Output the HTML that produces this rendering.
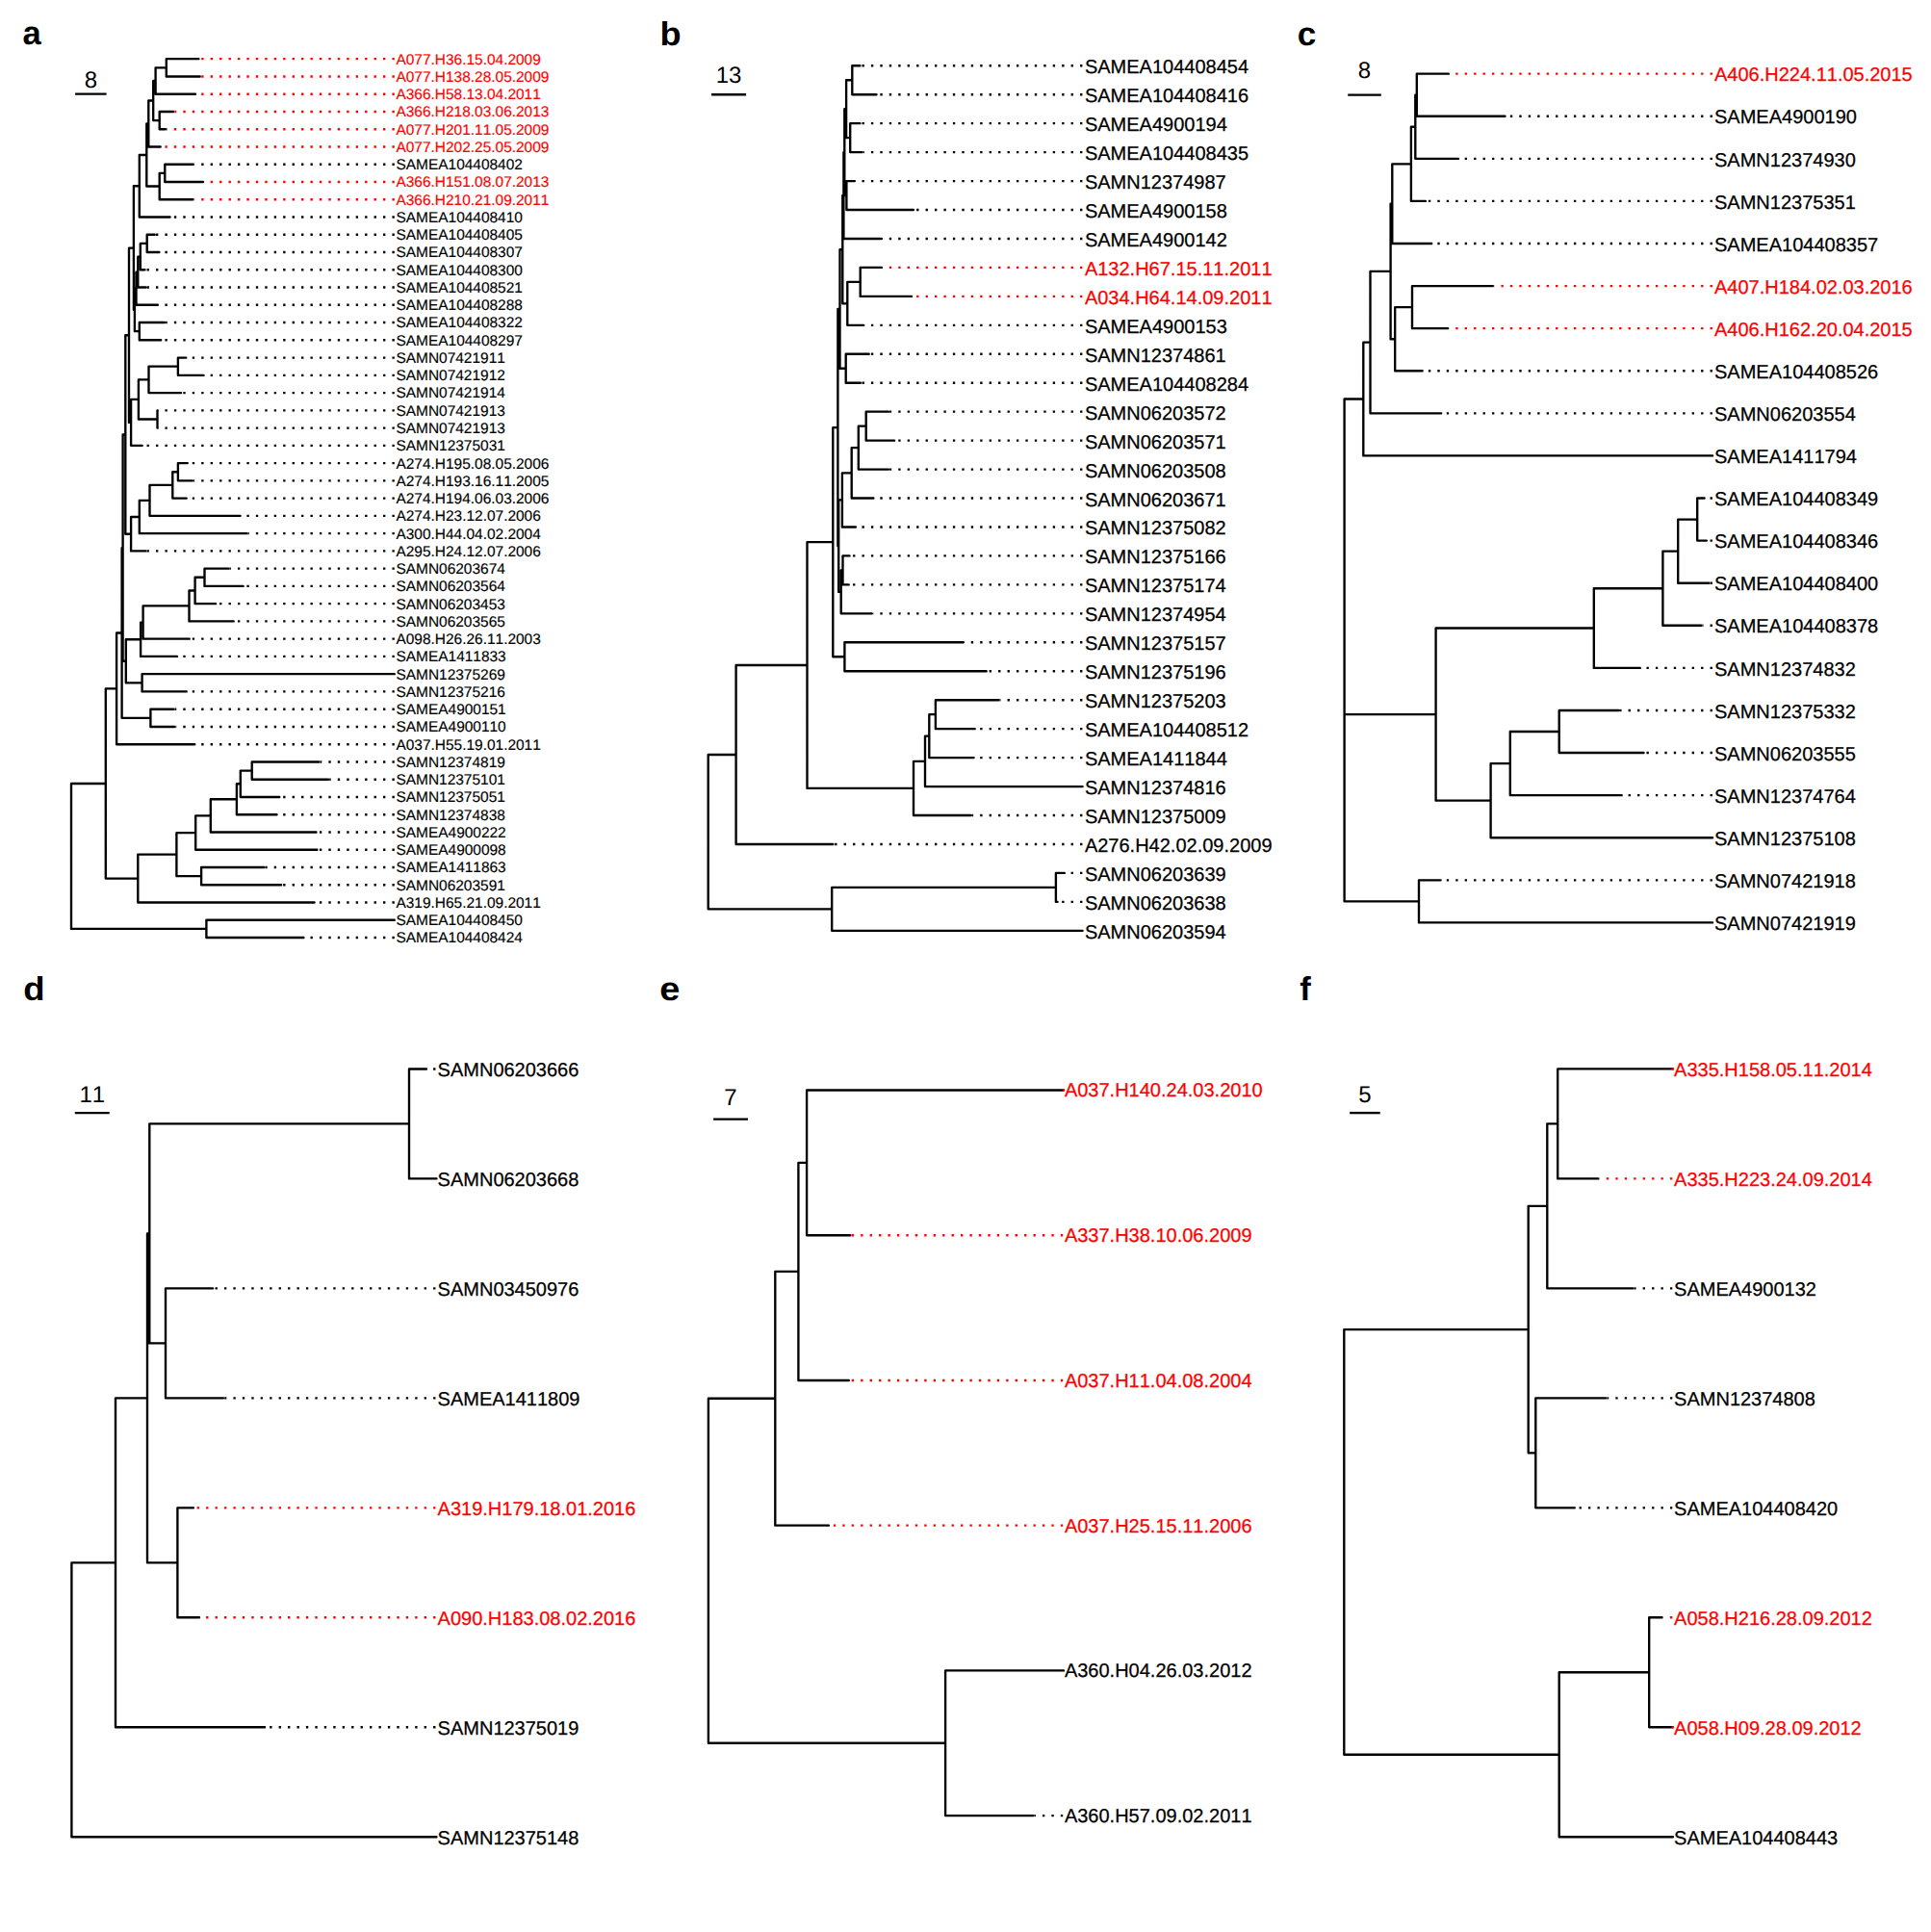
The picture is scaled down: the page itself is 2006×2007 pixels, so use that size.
<!DOCTYPE html>
<html lang="en"><head><meta charset="utf-8"><title>Phylogenetic trees a–f</title>
<style>html,body{margin:0;padding:0;background:#fff}svg{display:block}text{font-family:"Liberation Sans",sans-serif;fill:#000;font-kerning:none;text-rendering:geometricPrecision}.t text{stroke:#000}.t .r{stroke:#f00}.r{fill:#f00}.L{font-weight:700;font-size:34.5px}.S{font-size:24px;text-anchor:middle}.s{fill:none;stroke:#000;stroke-width:2.36;stroke-linecap:round;stroke-linejoin:round}.d{fill:none;stroke:#000;stroke-width:2.36;stroke-dasharray:2.36 7.08}.dr{stroke:#f00}</style></head><body>
<svg width="2006" height="2007" viewBox="0 0 2006 2007">
<rect width="2006" height="2007" fill="#fff"/>
<g>
<text class="L" transform="translate(23.6 46.4) scale(1 1)">a</text>
<text class="S" x="94.35" y="90.7">8</text>
<path class="s" style="stroke-linecap:butt" d="M78.1 97.6H110.6"/>
<path class="s" d="M74 813.95V964.91M74 813.95H109.8M109.8 715.34V912.57M109.8 715.34H121.1M121.1 657.48V773.21M121.1 657.48H126.6M126.6 569.12V745.83M126.6 569.12H127.6M127.6 451.47V686.78M127.6 451.47H130.3M130.3 348.24V554.7M130.3 348.24H134M134 257.6V438.88M134 257.6H138.9M138.9 193.27V321.92M138.9 193.27H144.8M144.8 161.03V225.5M144.8 161.03H152.3M152.3 128.51V193.55M152.3 128.51H154.3M154.3 104.55V152.48M154.3 104.55H159.2M159.2 84.01V125.09M159.2 84.01H161.6M161.6 70.32V97.7M161.6 70.32H172.8M172.8 61.19V79.45M172.8 61.19H206.4M172.8 79.45H207.7M161.6 97.7H203M159.2 125.09H165.7M165.7 115.96V134.22M165.7 115.96H180.3M165.7 134.22H171.9M154.3 152.48H166.7M152.3 193.55H165.7M165.7 179.86V207.25M165.7 179.86H171.3M171.3 170.73V188.99M171.3 170.73H200.8M171.3 188.99H211M165.7 207.25H200.2M144.8 225.5H176.6M138.9 321.92H139.9M139.9 299.67V344.17M139.9 299.67H141.5M141.5 282.56V316.79M141.5 282.56H143.3M143.3 266.58V298.53M143.3 266.58H145.8M145.8 252.89V280.27M145.8 252.89H152.7M152.7 243.76V262.02M152.7 243.76H160.7M152.7 262.02H165.4M145.8 280.27H150.5M143.3 298.53H151.8M141.5 316.79H163.9M139.9 344.17H144.8M144.8 335.05V353.3M144.8 335.05H171M144.8 353.3H167.2M134 438.88H136.1M136.1 414.92V462.84M136.1 414.92H143.9M143.9 394.38V435.46M143.9 394.38H154.5M154.5 380.69V408.07M154.5 380.69H184.9M184.9 371.56V389.82M184.9 371.56H193.3M184.9 389.82H211.6M154.5 408.07H188.1M143.9 435.46H163.5M163.5 426.33V444.59M136.1 462.84H147.7M130.3 554.7H136.1M136.1 537.01V572.39M136.1 537.01H144.8M144.8 519.9V554.13M144.8 519.9H155.5M155.5 503.92V535.87M155.5 503.92H179.3M179.3 490.23V517.62M179.3 490.23H184.9M184.9 481.1V499.36M184.9 481.1H194.8M184.9 499.36H199.9M179.3 517.62H193.7M155.5 535.87H249.6M144.8 554.13H256.3M136.1 572.39H151.4M127.6 686.78H130.8M130.8 664.24V709.31M130.8 664.24H146.1M146.1 646.56V681.93M146.1 646.56H148.6M148.6 629.44V663.67M148.6 629.44H196.5M196.5 613.46V645.41M196.5 613.46H202.6M202.6 599.77V627.16M202.6 599.77H212.5M212.5 590.64V608.9M212.5 590.64H237.1M212.5 608.9H252.6M202.6 627.16H224.1M196.5 645.41H242.7M148.6 663.67H196.7M146.1 681.93H184M130.8 709.31H147.6M147.6 700.18V718.44M147.6 700.18H409.8M147.6 718.44H193.7M126.6 745.83H156.4M156.4 736.7V754.96M156.4 736.7H180.3M156.4 754.96H181.2M121.1 773.21H202.3M109.8 912.57H143.3M143.3 887.6V937.53M143.3 887.6H183.4M183.4 865.07V910.14M183.4 865.07H203.2M203.2 847.38V882.76M203.2 847.38H218.8M218.8 830.27V864.5M218.8 830.27H245.9M245.9 814.29V846.24M245.9 814.29H249.8M249.8 800.6V827.98M249.8 800.6H261.7M261.7 791.47V809.73M261.7 791.47H331.3M261.7 809.73H341M249.8 827.98H290.3M245.9 846.24H287.5M218.8 864.5H328.5M203.2 882.76H329.4M183.4 910.14H209.1M209.1 901.01V919.27M209.1 901.01H274.4M209.1 919.27H292.1M143.3 937.53H326.6M74 964.91H214.4M214.4 955.78V974.04M214.4 955.78H409.8M214.4 974.04H315.4"/>
<path class="d" d="M409.8 170.73H202M409.8 225.5H177.8M409.8 243.76H161.9M409.8 262.02H166.6M409.8 280.27H151.7M409.8 298.53H153M409.8 316.79H165.1M409.8 335.05H172.2M409.8 353.3H168.4M409.8 371.56H194.5M409.8 389.82H212.8M409.8 408.07H189.3M409.8 426.33H163.8M409.8 444.59H163.8M409.8 462.84H148.9M409.8 481.1H196M409.8 499.36H201.1M409.8 517.62H194.9M409.8 535.87H250.8M409.8 554.13H257.5M409.8 572.39H152.6M409.8 590.64H238.3M409.8 608.9H253.8M409.8 627.16H225.3M409.8 645.41H243.9M409.8 663.67H197.9M409.8 681.93H185.2M409.8 718.44H194.9M409.8 736.7H181.5M409.8 754.96H182.4M409.8 773.21H203.5M409.8 791.47H332.5M409.8 809.73H342.2M409.8 827.98H291.5M409.8 846.24H288.7M409.8 864.5H329.7M409.8 882.76H330.6M409.8 901.01H275.6M409.8 919.27H293.3M409.8 937.53H327.8M409.8 974.04H316.6"/>
<path class="d dr" d="M409.8 61.19H207.6M409.8 79.45H208.9M409.8 97.7H204.2M409.8 115.96H181.5M409.8 134.22H173.1M409.8 152.48H167.9M409.8 188.99H212.2M409.8 207.25H201.4"/>
<g class="t" font-size="15.46" style="stroke-width:0.15px">
<text x="411.45" y="66.59" class="r">A077.H36.15.04.2009</text>
<text x="411.45" y="84.85" class="r">A077.H138.28.05.2009</text>
<text x="411.45" y="103.1" class="r">A366.H58.13.04.2011</text>
<text x="411.45" y="121.36" class="r">A366.H218.03.06.2013</text>
<text x="411.45" y="139.62" class="r">A077.H201.11.05.2009</text>
<text x="411.45" y="157.88" class="r">A077.H202.25.05.2009</text>
<text x="411.45" y="176.13">SAMEA104408402</text>
<text x="411.45" y="194.39" class="r">A366.H151.08.07.2013</text>
<text x="411.45" y="212.65" class="r">A366.H210.21.09.2011</text>
<text x="411.45" y="230.9">SAMEA104408410</text>
<text x="411.45" y="249.16">SAMEA104408405</text>
<text x="411.45" y="267.42">SAMEA104408307</text>
<text x="411.45" y="285.67">SAMEA104408300</text>
<text x="411.45" y="303.93">SAMEA104408521</text>
<text x="411.45" y="322.19">SAMEA104408288</text>
<text x="411.45" y="340.44">SAMEA104408322</text>
<text x="411.45" y="358.7">SAMEA104408297</text>
<text x="411.45" y="376.96">SAMN07421911</text>
<text x="411.45" y="395.22">SAMN07421912</text>
<text x="411.45" y="413.47">SAMN07421914</text>
<text x="411.45" y="431.73">SAMN07421913</text>
<text x="411.45" y="449.99">SAMN07421913</text>
<text x="411.45" y="468.24">SAMN12375031</text>
<text x="411.45" y="486.5">A274.H195.08.05.2006</text>
<text x="411.45" y="504.76">A274.H193.16.11.2005</text>
<text x="411.45" y="523.01">A274.H194.06.03.2006</text>
<text x="411.45" y="541.27">A274.H23.12.07.2006</text>
<text x="411.45" y="559.53">A300.H44.04.02.2004</text>
<text x="411.45" y="577.79">A295.H24.12.07.2006</text>
<text x="411.45" y="596.04">SAMN06203674</text>
<text x="411.45" y="614.3">SAMN06203564</text>
<text x="411.45" y="632.56">SAMN06203453</text>
<text x="411.45" y="650.81">SAMN06203565</text>
<text x="411.45" y="669.07">A098.H26.26.11.2003</text>
<text x="411.45" y="687.33">SAMEA1411833</text>
<text x="411.45" y="705.58">SAMN12375269</text>
<text x="411.45" y="723.84">SAMN12375216</text>
<text x="411.45" y="742.1">SAMEA4900151</text>
<text x="411.45" y="760.36">SAMEA4900110</text>
<text x="411.45" y="778.61">A037.H55.19.01.2011</text>
<text x="411.45" y="796.87">SAMN12374819</text>
<text x="411.45" y="815.13">SAMN12375101</text>
<text x="411.45" y="833.38">SAMN12375051</text>
<text x="411.45" y="851.64">SAMN12374838</text>
<text x="411.45" y="869.9">SAMEA4900222</text>
<text x="411.45" y="888.16">SAMEA4900098</text>
<text x="411.45" y="906.41">SAMEA1411863</text>
<text x="411.45" y="924.67">SAMN06203591</text>
<text x="411.45" y="942.93">A319.H65.21.09.2011</text>
<text x="411.45" y="961.18">SAMEA104408450</text>
<text x="411.45" y="979.44">SAMEA104408424</text>
</g></g>
<g>
<text class="L" transform="translate(685.4 46.9) scale(1.05 1)">b</text>
<text class="S" x="757.05" y="85.9">13</text>
<path class="s" style="stroke-linecap:butt" d="M739 98.2H775.1"/>
<path class="s" d="M735.7 784.01V944.36M735.7 784.01H764.6M764.6 691.05V876.96M764.6 691.05H838.5M838.5 563.17V818.93M838.5 563.17H865.3M865.3 444.06V682.28M865.3 444.06H870.4M870.4 320.98V567.15M870.4 320.98H872.5M872.5 259.2V382.76M872.5 259.2H875.3M875.3 203.04V315.36M875.3 203.04H876.4M876.4 158.12V247.97M876.4 158.12H877.3M877.3 113.19V203.04M877.3 113.19H879.1M879.1 83.24V143.14M879.1 83.24H885.3M885.3 68.26V98.21M885.3 68.26H893.4M885.3 98.21H910.5M879.1 143.14H883.2M883.2 128.16V158.12M883.2 128.16H893.4M883.2 158.12H895.6M877.3 203.04H879.4M879.4 188.07V218.02M879.4 188.07H887.9M879.4 218.02H948.9M876.4 247.97H915.9M875.3 315.36H880.3M880.3 292.9V337.83M880.3 292.9H893.7M893.7 277.92V307.88M893.7 277.92H915.9M893.7 307.88H947M880.3 337.83H897.3M872.5 382.76H878.7M878.7 367.78V397.73M878.7 367.78H902.7M878.7 397.73H893.8M870.4 567.15H871.2M871.2 519.41V614.88M871.2 519.41H874.9M874.9 491.33V547.49M874.9 491.33H884.7M884.7 465.12V517.54M884.7 465.12H891.8M891.8 442.66V487.59M891.8 442.66H899.7M899.7 427.68V457.64M899.7 427.68H922.9M899.7 457.64H929.1M891.8 487.59H922.9M884.7 517.54H907.4M874.9 547.49H888.9M871.2 614.88H873.7M873.7 592.42V637.35M873.7 592.42H875.5M875.5 577.44V607.4M875.5 577.44H882.5M875.5 607.4H881.7M873.7 637.35H905.8M865.3 682.28H877.4M877.4 667.3V697.25M877.4 667.3H1000.8M877.4 697.25H1024.7M838.5 818.93H949M949 790.85V847.01M949 790.85H961M961 764.64V817.06M961 764.64H965.3M965.3 742.18V787.11M965.3 742.18H971.9M971.9 727.2V757.16M971.9 727.2H1037.1M971.9 757.16H1012.7M965.3 787.11H1011.6M961 817.06H1124.6M949 847.01H1008.8M764.6 876.96H865.3M735.7 944.36H864.2M864.2 921.89V966.82M864.2 921.89H1096.9M1096.9 906.92V936.87M1096.9 906.92H1105.8M1096.9 936.87H1098.6M864.2 966.82H1124.6"/>
<path class="d" d="M1124.4 68.26H894.6M1124.4 98.21H911.7M1124.4 128.16H894.6M1124.4 158.12H896.8M1124.4 188.07H889.1M1124.4 218.02H950.1M1124.4 247.97H917.1M1124.4 337.83H898.5M1124.4 367.78H903.9M1124.4 397.73H895M1124.4 427.68H924.1M1124.4 457.64H930.3M1124.4 487.59H924.1M1124.4 517.54H908.6M1124.4 547.49H890.1M1124.4 577.44H883.7M1124.4 607.4H882.9M1124.4 637.35H907M1124.4 667.3H1002M1124.4 697.25H1025.9M1124.4 727.2H1038.3M1124.4 757.16H1013.9M1124.4 787.11H1012.8M1124.4 847.01H1010M1124.4 876.96H866.5M1124.4 906.92H1107M1124.4 936.87H1099.8"/>
<path class="d dr" d="M1124.4 277.92H917.1M1124.4 307.88H948.2"/>
<g class="t" font-size="20" style="stroke-width:0.25px">
<text x="1126.9" y="76.26">SAMEA104408454</text>
<text x="1126.9" y="106.21">SAMEA104408416</text>
<text x="1126.9" y="136.16">SAMEA4900194</text>
<text x="1126.9" y="166.12">SAMEA104408435</text>
<text x="1126.9" y="196.07">SAMN12374987</text>
<text x="1126.9" y="226.02">SAMEA4900158</text>
<text x="1126.9" y="255.97">SAMEA4900142</text>
<text x="1126.9" y="285.92" class="r">A132.H67.15.11.2011</text>
<text x="1126.9" y="315.88" class="r">A034.H64.14.09.2011</text>
<text x="1126.9" y="345.83">SAMEA4900153</text>
<text x="1126.9" y="375.78">SAMN12374861</text>
<text x="1126.9" y="405.73">SAMEA104408284</text>
<text x="1126.9" y="435.68">SAMN06203572</text>
<text x="1126.9" y="465.64">SAMN06203571</text>
<text x="1126.9" y="495.59">SAMN06203508</text>
<text x="1126.9" y="525.54">SAMN06203671</text>
<text x="1126.9" y="555.49">SAMN12375082</text>
<text x="1126.9" y="585.44">SAMN12375166</text>
<text x="1126.9" y="615.4">SAMN12375174</text>
<text x="1126.9" y="645.35">SAMN12374954</text>
<text x="1126.9" y="675.3">SAMN12375157</text>
<text x="1126.9" y="705.25">SAMN12375196</text>
<text x="1126.9" y="735.2">SAMN12375203</text>
<text x="1126.9" y="765.16">SAMEA104408512</text>
<text x="1126.9" y="795.11">SAMEA1411844</text>
<text x="1126.9" y="825.06">SAMN12374816</text>
<text x="1126.9" y="855.01">SAMN12375009</text>
<text x="1126.9" y="884.96">A276.H42.02.09.2009</text>
<text x="1126.9" y="914.92">SAMN06203639</text>
<text x="1126.9" y="944.87">SAMN06203638</text>
<text x="1126.9" y="974.82">SAMN06203594</text>
</g></g>
<g>
<text class="L" transform="translate(1347.7 46.9) scale(1.02 1)">c</text>
<text class="S" x="1417.5" y="80.9">8</text>
<path class="s" style="stroke-linecap:butt" d="M1400.2 98.6H1434.8"/>
<path class="s" d="M1396.6 414.55V936.36M1396.6 414.55H1416.3M1416.3 355.65V473.44M1416.3 355.65H1423.5M1423.5 281.94V429.36M1423.5 281.94H1444.6M1444.6 211.68V352.2M1444.6 211.68H1446.3M1446.3 170.34V253.01M1446.3 170.34H1465.9M1465.9 131.77V208.92M1465.9 131.77H1470.3M1470.3 98.7V164.83M1470.3 98.7H1471.8M1471.8 76.66V120.75M1471.8 76.66H1504.8M1471.8 120.75H1563.5M1470.3 164.83H1515M1465.9 208.92H1480.9M1446.3 253.01H1487.2M1444.6 352.2H1449.2M1449.2 319.14V385.27M1449.2 319.14H1467M1467 297.1V341.18M1467 297.1H1550.9M1467 341.18H1504.2M1449.2 385.27H1477.6M1423.5 429.36H1497.2M1416.3 473.44H1779.1M1396.6 742.1H1491.6M1491.6 652.55V831.65M1491.6 652.55H1655.8M1655.8 611.21V693.88M1655.8 611.21H1727.4M1727.4 572.64V649.79M1727.4 572.64H1743.2M1743.2 539.57V605.7M1743.2 539.57H1763.2M1763.2 517.53V561.62M1763.2 517.53H1770.6M1763.2 561.62H1772.8M1743.2 605.7H1775.4M1727.4 649.79H1767.3M1655.8 693.88H1703.8M1491.6 831.65H1548.6M1548.6 793.07V870.23M1548.6 793.07H1568.8M1568.8 760.01V826.14M1568.8 760.01H1619.7M1619.7 737.97V782.05M1619.7 737.97H1681.9M1619.7 782.05H1707.5M1568.8 826.14H1684.7M1548.6 870.23H1779.1M1396.6 936.36H1474M1474 914.31V958.4M1474 914.31H1496.6M1474 958.4H1779.1"/>
<path class="d" d="M1778.9 120.75H1564.7M1778.9 164.83H1516.2M1778.9 208.92H1482.1M1778.9 253.01H1488.4M1778.9 385.27H1478.8M1778.9 429.36H1498.4M1778.9 517.53H1771.8M1778.9 561.62H1774M1778.9 605.7H1776.6M1778.9 649.79H1768.5M1778.9 693.88H1705M1778.9 737.97H1683.1M1778.9 782.05H1708.7M1778.9 826.14H1685.9M1778.9 914.31H1497.8"/>
<path class="d dr" d="M1778.9 76.66H1506M1778.9 297.1H1552.1M1778.9 341.18H1505.4"/>
<g class="t" font-size="20" style="stroke-width:0.25px">
<text x="1781" y="84.36" class="r">A406.H224.11.05.2015</text>
<text x="1781" y="128.45">SAMEA4900190</text>
<text x="1781" y="172.53">SAMN12374930</text>
<text x="1781" y="216.62">SAMN12375351</text>
<text x="1781" y="260.71">SAMEA104408357</text>
<text x="1781" y="304.8" class="r">A407.H184.02.03.2016</text>
<text x="1781" y="348.88" class="r">A406.H162.20.04.2015</text>
<text x="1781" y="392.97">SAMEA104408526</text>
<text x="1781" y="437.06">SAMN06203554</text>
<text x="1781" y="481.14">SAMEA1411794</text>
<text x="1781" y="525.23">SAMEA104408349</text>
<text x="1781" y="569.32">SAMEA104408346</text>
<text x="1781" y="613.4">SAMEA104408400</text>
<text x="1781" y="657.49">SAMEA104408378</text>
<text x="1781" y="701.58">SAMN12374832</text>
<text x="1781" y="745.67">SAMN12375332</text>
<text x="1781" y="789.75">SAMN06203555</text>
<text x="1781" y="833.84">SAMN12374764</text>
<text x="1781" y="877.93">SAMN12375108</text>
<text x="1781" y="922.01">SAMN07421918</text>
<text x="1781" y="966.1">SAMN07421919</text>
</g></g>
<g>
<text class="L" transform="translate(24.2 1039) scale(1.06 1)">d</text>
<text class="S" x="95.75" y="1144.6">11</text>
<path class="s" style="stroke-linecap:butt" d="M77.8 1156.1H113.7"/>
<path class="s" d="M74.4 1623.32V1908.24M74.4 1623.32H120M120 1452.36V1794.27M120 1452.36H153M153 1281.4V1623.32M153 1281.4H155.3M155.3 1167.43V1395.38M155.3 1167.43H425M425 1110.45V1224.42M425 1110.45H443M425 1224.42H453.5M155.3 1395.38H172M172 1338.39V1452.36M172 1338.39H221.1M172 1452.36H232M153 1623.32H184.4M184.4 1566.33V1680.3M184.4 1566.33H200.9M184.4 1680.3H207M120 1794.27H275.1M74.4 1908.24H453.5"/>
<path class="d" d="M452.44 1110.45H444.2M452.44 1338.39H222.3M452.44 1452.36H233.2M452.44 1794.27H276.3"/>
<path class="d dr" d="M452.44 1566.33H202.1M452.44 1680.3H208.2"/>
<g class="t" font-size="20" style="stroke-width:0.25px">
<text x="454.6" y="1117.75">SAMN06203666</text>
<text x="454.6" y="1231.72">SAMN06203668</text>
<text x="454.6" y="1345.69">SAMN03450976</text>
<text x="454.6" y="1459.66">SAMEA1411809</text>
<text x="454.6" y="1573.63" class="r">A319.H179.18.01.2016</text>
<text x="454.6" y="1687.6" class="r">A090.H183.08.02.2016</text>
<text x="454.6" y="1801.57">SAMN12375019</text>
<text x="454.6" y="1915.54">SAMN12375148</text>
</g></g>
<g>
<text class="L" transform="translate(685.3 1039) scale(1.1 1)">e</text>
<text class="S" x="759.05" y="1147.85">7</text>
<path class="s" style="stroke-linecap:butt" d="M741.1 1162.6H777"/>
<path class="s" d="M735.9 1452.79V1810.73M735.9 1452.79H805.3M805.3 1320.91V1584.66M805.3 1320.91H829.4M829.4 1207.88V1433.95M829.4 1207.88H838.1M838.1 1132.52V1283.23M838.1 1132.52H1105M838.1 1283.23H883.3M829.4 1433.95H881.8M805.3 1584.66H860.9M735.9 1810.73H982.1M982.1 1735.38V1886.09M982.1 1735.38H1105M982.1 1886.09H1073.6"/>
<path class="d" d="M1104.2 1886.09H1074.8"/>
<path class="d dr" d="M1104.2 1283.23H884.5M1104.2 1433.95H883M1104.2 1584.66H862.1"/>
<circle cx="1105" cy="1132.52" r="1.18" fill="#f00"/>
<g class="t" font-size="20" style="stroke-width:0.25px">
<text x="1105.9" y="1139.42" class="r">A037.H140.24.03.2010</text>
<text x="1105.9" y="1290.13" class="r">A337.H38.10.06.2009</text>
<text x="1105.9" y="1440.85" class="r">A037.H11.04.08.2004</text>
<text x="1105.9" y="1591.56" class="r">A037.H25.15.11.2006</text>
<text x="1105.9" y="1742.28">A360.H04.26.03.2012</text>
<text x="1105.9" y="1892.99">A360.H57.09.02.2011</text>
</g></g>
<g>
<text class="L" transform="translate(1350.3 1039) scale(1 1)">f</text>
<text class="S" x="1417.95" y="1144.8">5</text>
<path class="s" style="stroke-linecap:butt" d="M1402.2 1156.1H1433.7"/>
<path class="s" d="M1396.3 1381.11V1822.74M1396.3 1381.11H1587.7M1587.7 1252.89V1509.33M1587.7 1252.89H1607.3M1607.3 1167.41V1338.37M1607.3 1167.41H1618.2M1618.2 1110.43V1224.4M1618.2 1110.43H1737.9M1618.2 1224.4H1660.1M1607.3 1338.37H1696.7M1587.7 1509.33H1595.3M1595.3 1452.34V1566.31M1595.3 1452.34H1668.4M1595.3 1566.31H1635.8M1396.3 1822.74H1619.7M1619.7 1737.27V1908.22M1619.7 1737.27H1713.2M1713.2 1680.28V1794.25M1713.2 1680.28H1726.5M1713.2 1794.25H1737.9M1619.7 1908.22H1737.9"/>
<path class="d" d="M1737.3 1338.37H1697.9M1737.3 1452.34H1669.6M1737.3 1566.31H1637"/>
<path class="d dr" d="M1737.3 1224.4H1661.3M1737.3 1680.28H1727.7"/>
<circle cx="1737.9" cy="1110.43" r="1.18" fill="#f00"/>
<circle cx="1737.9" cy="1794.25" r="1.18" fill="#f00"/>
<g class="t" font-size="20" style="stroke-width:0.25px">
<text x="1739.1" y="1117.83" class="r">A335.H158.05.11.2014</text>
<text x="1739.1" y="1231.8" class="r">A335.H223.24.09.2014</text>
<text x="1739.1" y="1345.77">SAMEA4900132</text>
<text x="1739.1" y="1459.74">SAMN12374808</text>
<text x="1739.1" y="1573.71">SAMEA104408420</text>
<text x="1739.1" y="1687.68" class="r">A058.H216.28.09.2012</text>
<text x="1739.1" y="1801.65" class="r">A058.H09.28.09.2012</text>
<text x="1739.1" y="1915.62">SAMEA104408443</text>
</g></g>
</svg></body></html>
